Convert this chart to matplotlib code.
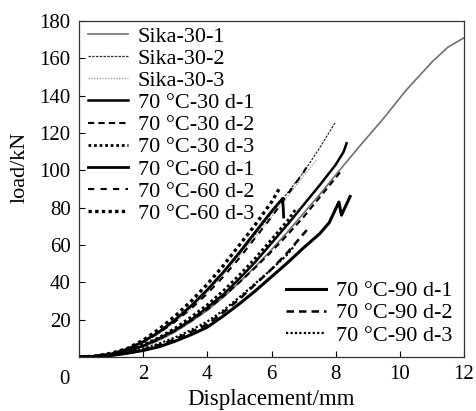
import matplotlib
matplotlib.use("Agg")
import matplotlib.pyplot as plt

plt.rcParams['font.family'] = ['Liberation Serif', 'DejaVu Serif']

# ---- data ----
labels1 = ["Sika-30-1", "Sika-30-2", "Sika-30-3",
           "70 °C-30 d-1", "70 °C-30 d-2", "70 °C-30 d-3",
           "70 °C-60 d-1", "70 °C-60 d-2", "70 °C-60 d-3"]
labels2 = ["70 °C-90 d-1", "70 °C-90 d-2", "70 °C-90 d-3"]

sika1_x = [0.05, 0.5, 1, 1.5, 2, 2.5, 3, 3.5, 4, 4.5, 5, 5.5, 6, 6.5, 7, 7.5, 8, 8.7, 9.5, 10.2, 11, 11.5, 12]
sika1_y = [0, 0.3, 1.2, 3, 5.5, 9, 13.5, 19, 25, 32, 40, 48.5, 57.5, 67, 77, 87, 97.5, 112, 128, 143, 158, 166, 171]

sika2_x = [0.05, 0.5, 1, 1.5, 2, 2.5, 3, 3.5, 4, 4.5, 5, 5.5, 6, 6.5, 7, 7.5, 8]
sika2_y = [0, 0.4, 1.5, 4, 8, 13, 19.5, 27, 35.5, 45, 55, 66, 77, 88, 99, 112, 126]

sika3_x = [0.05, 0.5, 1, 1.5, 2, 2.5, 3, 3.5, 4, 4.5, 5, 5.5, 6, 6.5, 7, 7.42]
sika3_y = [0, 0.4, 1.4, 3.8, 7.6, 12.5, 19, 26, 34.5, 44, 54, 64.5, 75, 86, 97, 106]

t30d1_x = [0.05, 0.5, 1, 1.5, 2, 2.5, 3, 3.5, 4, 4.5, 5, 5.5, 6, 6.5, 7, 7.5, 8, 8.25, 8.34]
t30d1_y = [0, 0.3, 1.3, 3.3, 6, 10, 14.5, 20, 26.5, 33.5, 42, 51, 61, 71, 81.5, 92, 103, 110, 114.5]

t30d2_x = [0.05, 0.5, 1, 1.5, 2, 2.5, 3, 3.5, 4, 4.5, 5, 5.5, 6, 6.5, 7, 7.5, 8, 8.14]
t30d2_y = [0, 0.3, 1.2, 3.2, 5.8, 9.5, 14, 19.5, 25.5, 32.5, 40, 48, 56.5, 65.5, 75, 85.5, 96, 99]

t30d3_x = [0.05, 0.5, 1, 1.5, 2, 2.5, 3, 3.5, 4, 4.5, 5, 5.5, 6, 6.5, 6.75]
t30d3_y = [0, 0.4, 1.5, 3.6, 6.5, 10.5, 15.5, 21.5, 28, 35.5, 44, 53, 63, 73, 79]

t60d1_x = [0.05, 0.5, 1, 1.5, 2, 2.5, 3, 3.5, 4, 4.5, 5, 5.5, 6, 6.35, 6.38]
t60d1_y = [0, 0.4, 1.6, 4.2, 8.2, 13.5, 20, 27.5, 36, 45.5, 56, 67, 78, 85, 75]

t60d2_x = [0.05, 0.5, 1, 1.5, 2, 2.5, 3, 3.5, 4, 4.5, 5, 5.5, 6, 6.5, 7, 7.14]
t60d2_y = [0, 0.4, 1.5, 4, 8, 13, 19, 26, 34, 43, 53, 64, 75, 87, 99, 103]

t60d3_x = [0.05, 0.5, 1, 1.5, 2, 2.5, 3, 3.5, 4, 4.5, 5, 5.5, 6, 6.27]
t60d3_y = [0, 0.5, 2, 4.5, 9, 15, 22, 30, 39, 49, 60, 71, 83, 91]

t90d1_x = [0.05, 0.5, 1, 1.5, 2, 2.5, 3, 3.5, 4, 4.5, 5, 5.5, 6, 6.5, 7, 7.5, 7.8, 8.1, 8.18, 8.45]
t90d1_y = [0, 0.2, 0.8, 2, 3.5, 5.5, 8.5, 12, 16, 22, 28.5, 35.5, 43, 50.5, 58.5, 66, 72, 83, 76, 86]

t90d2_x = [0.05, 0.5, 1, 1.5, 2, 2.5, 3, 3.5, 4, 4.5, 5, 5.5, 6, 6.5, 7.1]
t90d2_y = [0, 0.2, 0.9, 2.2, 4, 6.5, 9.5, 13.5, 17.5, 24, 31, 39, 47, 56, 68]

t90d3_x = [0.05, 0.5, 1, 1.5, 2, 2.5, 3, 3.5, 4, 4.5, 5, 5.5, 6, 6.5, 6.73]
t90d3_y = [0, 0.3, 1, 2.5, 4.5, 7.2, 10.5, 14.5, 19, 25, 32, 39.5, 47, 55, 60]

x_ticks = [0, 2, 4, 6, 8, 10, 12]
y_ticks = [20, 40, 60, 80, 100, 120, 140, 160, 180]

# ---- plot ----
fig = plt.figure(figsize=(4.76, 4.11), dpi=100)
ax = fig.add_axes([79/476, 1-357/411, (464-79)/476, (357-21)/411])

fs_tick = 15
fs_leg = 16
h = []
h += ax.plot(sika1_x, sika1_y, color='#707070', lw=1.2, ls='-')
h += ax.plot(sika2_x, sika2_y, color='#303030', lw=0.9, ls=(0, (2, 1)))
h += ax.plot(sika3_x, sika3_y, color='#a0a0a0', lw=1.0, ls=(0, (1, 1)))
h += ax.plot(t30d1_x, t30d1_y, color='black', lw=1.8, ls='-')
h += ax.plot(t30d2_x, t30d2_y, color='black', lw=1.5, ls=(0, (3, 2)))
h += ax.plot(t30d3_x, t30d3_y, color='black', lw=2.0, ls=(0, (1, 1)))
h += ax.plot(t60d1_x, t60d1_y, color='black', lw=2.0, ls='-')
h += ax.plot(t60d2_x, t60d2_y, color='black', lw=1.5, ls=(0, (3, 3)))
h += ax.plot(t60d3_x, t60d3_y, color='black', lw=2.4, ls=(0, (1, 1)))
h2 = []
h2 += ax.plot(t90d1_x, t90d1_y, color='black', lw=2.2, ls='-')
h2 += ax.plot(t90d2_x, t90d2_y, color='black', lw=1.8, ls=(0, (3, 2)))
h2 += ax.plot(t90d3_x, t90d3_y, color='black', lw=1.6, ls=(0, (1, 1)))

ax.set_xlim(0, 12)
ax.set_ylim(0, 180)
ax.set_xticks(x_ticks)
ax.set_xticklabels([''] + [str(v) for v in x_ticks[1:]])
ax.set_yticks(y_ticks)
ax.set_yticklabels([str(v) for v in y_ticks])
ax.tick_params(direction='in', length=4, width=0.8, labelsize=fs_tick, pad=6)
ax.annotate('0', xy=(0, 0), xycoords='data', xytext=(-15, -22),
            textcoords='offset pixels', ha='center', va='center', fontsize=fs_tick)
for s in ax.spines.values():
    s.set_linewidth(0.9)
    s.set_color('#333333')

ax.set_xlabel('Displacement/mm', fontsize=16.5, labelpad=3)
ax.set_ylabel('load/kN', fontsize=16)
ax.yaxis.set_label_coords(-0.127, 0.565)

leg1 = ax.legend(h, labels1, loc='upper left', bbox_to_anchor=(0.023, 0.984),
                 frameon=False, fontsize=fs_leg, handlelength=1.8,
                 handletextpad=0.45, labelspacing=0.07, borderpad=0.0,
                 borderaxespad=0.0)
ax.add_artist(leg1)
ax.legend(h2, labels2, loc='lower left', bbox_to_anchor=(0.538, 0.034),
          frameon=False, fontsize=fs_leg, handlelength=1.8,
          handletextpad=0.45, labelspacing=0.07, borderpad=0.0,
          borderaxespad=0.0)

fig.savefig('out.png', dpi=100)
